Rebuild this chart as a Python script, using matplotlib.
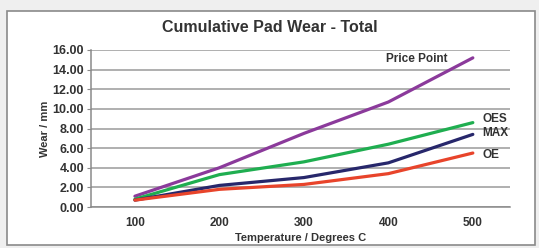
import matplotlib.pyplot as plt
from matplotlib.patches import Rectangle

plt.rcParams['font.family'] = ['Liberation Sans Narrow', 'Liberation Sans', 'DejaVu Sans']

temps = [100, 200, 300, 400, 500]
price_point = [1.1, 4.0, 7.5, 10.7, 15.2]
oes = [0.8, 3.3, 4.6, 6.4, 8.6]
max_pad = [0.7, 2.2, 3.0, 4.5, 7.4]
oe = [0.7, 1.8, 2.3, 3.4, 5.5]
yticks = [0, 2, 4, 6, 8, 10, 12, 14, 16]

fig = plt.figure(figsize=(5.39, 2.48), dpi=100)
fig.patch.set_facecolor('#efefef')
fig.patches.append(Rectangle((7 / 539, 3 / 248), 528 / 539, 234 / 248,
                             transform=fig.transFigure, facecolor='white',
                             edgecolor='#8a8a8a', linewidth=1.2, zorder=-1))

ax = fig.add_axes([91 / 539, 41 / 248, 419 / 539, 157 / 248])
ax.set_zorder(2)
ax.set_facecolor('white')

ax.plot(temps, price_point, color='#8b3a9b', lw=2.3, solid_capstyle='round')
ax.plot(temps, oes, color='#1fae50', lw=2.3, solid_capstyle='round')
ax.plot(temps, max_pad, color='#27276b', lw=2.3, solid_capstyle='round')
ax.plot(temps, oe, color='#e8442b', lw=2.3, solid_capstyle='round')

lab = dict(fontsize=8.5, fontweight='bold', color='#333333', va='center')
ax.text(470, price_point[-1] - 0.1, 'Price Point', ha='right', **lab)
ax.text(511, oes[-1] + 0.4, 'OES', ha='left', **lab)
ax.text(511, max_pad[-1] + 0.1, 'MAX', ha='left', **lab)
ax.text(511, oe[-1] - 0.2, 'OE', ha='left', **lab)

ax.set_xlim(48, 544)
ax.set_ylim(0, 16)
ax.set_xticks(temps)
ax.set_yticks(yticks)
ax.set_yticklabels(['%.2f' % v for v in yticks])
ax.grid(axis='y', color='#9a9a9a', lw=1.1)
ax.set_axisbelow(True)
for s in ['top', 'right']:
    ax.spines[s].set_visible(False)
for s in ['left', 'bottom']:
    ax.spines[s].set_color('#8a8a8a')
    ax.spines[s].set_linewidth(1.1)
ax.tick_params(axis='y', length=3, color='#8a8a8a', labelsize=9,
               labelcolor='#333333', pad=2)
ax.tick_params(axis='x', length=0, labelsize=8.5, labelcolor='#333333', pad=7)
for lbl in ax.get_xticklabels() + ax.get_yticklabels():
    lbl.set_fontweight('bold')

ax.set_xlabel('Temperature / Degrees C', fontsize=8, fontweight='bold',
              color='#333333', labelpad=3)
ax.set_ylabel('Wear / mm', fontsize=8, fontweight='bold', color='#333333',
              labelpad=2)
fig.text(0.5, 1 - 27 / 248, 'Cumulative Pad Wear - Total', ha='center',
         va='center', fontsize=11.5, fontweight='bold', color='#333333')

fig.savefig('out.png', dpi=100, facecolor=fig.get_facecolor())
